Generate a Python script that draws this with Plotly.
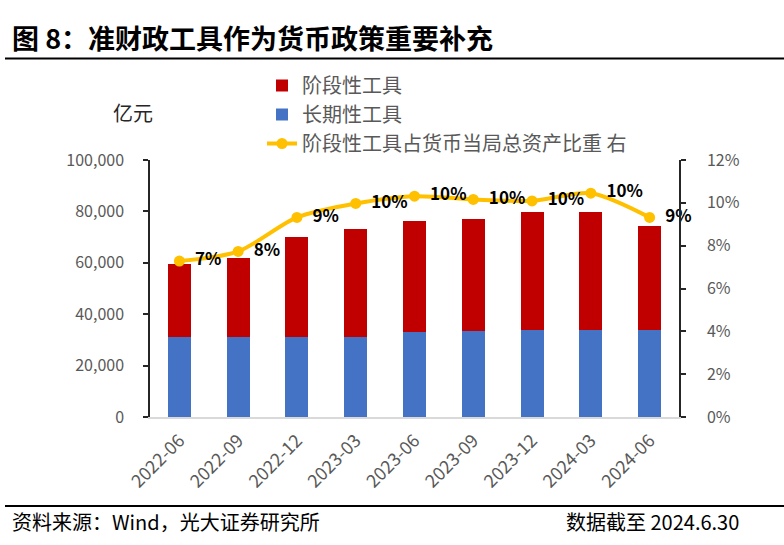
import plotly.graph_objects as go

# ---- data ----
categories = ["2022-06", "2022-09", "2022-12", "2023-03", "2023-06",
              "2023-09", "2023-12", "2024-03", "2024-06"]
long_term = [31000, 31000, 31000, 31000, 33000, 33400, 33700, 33700, 33700]      # 长期性工具 (亿元)
phased = [28400, 30700, 38900, 42100, 43100, 43500, 46200, 46000, 40500]         # 阶段性工具 (亿元)
phased_share = [0.0728, 0.0773, 0.0932, 0.0997, 0.1031, 0.1016, 0.1009, 0.1045, 0.0932]  # 占比 (右轴)

# ---- layout constants (pixels) ----
W, H = 784, 545
L, R, T, B = 150, 105, 160, 128
PW = W - L - R
PH = H - T - B

def px_x(x):
    return (x - L) / PW

def px_y(y):
    return (H - B - y) / PH

FONT = "Noto Sans CJK SC"
GREY = "#595959"

fig = go.Figure()

fig.add_trace(go.Bar(
    x=categories, y=long_term, name="长期性工具",
    marker=dict(color="#4472C4", line=dict(width=0)),
    legendrank=2, yaxis="y",
))
fig.add_trace(go.Bar(
    x=categories, y=phased, name="阶段性工具",
    marker=dict(color="#C00000", line=dict(width=0)),
    legendrank=1, yaxis="y",
))
fig.add_trace(go.Scatter(
    x=categories, y=phased_share, name="阶段性工具占货币当局总资产比重 右",
    mode="lines+markers+text", yaxis="y2",
    line=dict(color="#FFC000", width=4, shape="spline", smoothing=0.8),
    marker=dict(color="#FFC000", size=11),
    texttemplate="  %{y:.0%}", textposition="middle right",
    textfont=dict(family=FONT, size=17, color="#000000", weight="bold"),
    legendrank=3, cliponaxis=False,
))

fig.update_layout(
    width=W, height=H,
    margin=dict(l=L, r=R, t=T, b=B, autoexpand=False),
    paper_bgcolor="white", plot_bgcolor="white",
    barmode="stack", bargap=0.61,
    font=dict(family=FONT, size=16, color=GREY),
    showlegend=True,
    legend=dict(
        x=px_x(262), y=px_y(66), xanchor="left", yanchor="top",
        traceorder="normal", font=dict(family=FONT, size=20, color=GREY),
        bgcolor="rgba(0,0,0,0)", borderwidth=0, tracegroupgap=0,
    ),
    xaxis=dict(
        type="category", range=[-0.5, 8.5],
        showline=True, linecolor="#D9D9D9", linewidth=2,
        ticks="", tickangle=-45, showgrid=False, zeroline=False,
        ticklabelstandoff=4,
        tickfont=dict(family=FONT, size=18, color=GREY),
    ),
    yaxis=dict(
        range=[0, 100000], dtick=20000, tickformat=",",
        showline=True, linecolor="#262626", linewidth=1.5,
        ticks="outside", ticklen=5, tickcolor="#262626", tickwidth=1.5,
        showgrid=False, zeroline=False, ticklabelstandoff=16,
        tickfont=dict(family=FONT, size=16, color=GREY),
    ),
    yaxis2=dict(
        range=[0, 0.12], dtick=0.02, tickformat=".0%",
        overlaying="y", side="right", anchor="x",
        showline=True, linecolor="#262626", linewidth=1.5,
        ticks="outside", ticklen=5, tickcolor="#262626", tickwidth=1.5,
        showgrid=False, zeroline=False, ticklabelstandoff=18,
        tickfont=dict(family=FONT, size=16, color=GREY),
    ),
    annotations=[
        dict(text="<b>图 8：准财政工具作为货币政策重要补充</b>", x=px_x(10), y=px_y(38),
             xref="paper", yref="paper", xanchor="left", yanchor="middle",
             showarrow=False, font=dict(family=FONT, size=27, color="#000000")),
        dict(text="亿元", x=px_x(111), y=px_y(112),
             xref="paper", yref="paper", xanchor="left", yanchor="middle",
             showarrow=False, font=dict(family=FONT, size=20, color="#262626")),
        dict(text="资料来源：Wind，光大证券研究所", x=px_x(10), y=px_y(521),
             xref="paper", yref="paper", xanchor="left", yanchor="middle",
             showarrow=False, font=dict(family=FONT, size=20, color="#000000")),
        dict(text="数据截至 2024.6.30", x=px_x(741), y=px_y(521),
             xref="paper", yref="paper", xanchor="right", yanchor="middle",
             showarrow=False, font=dict(family=FONT, size=20, color="#000000")),
    ],
    shapes=[
        dict(type="line", xref="paper", yref="paper",
             x0=px_x(5), x1=px_x(784), y0=px_y(58.5), y1=px_y(58.5),
             line=dict(color="#000000", width=2)),
        dict(type="line", xref="paper", yref="paper",
             x0=px_x(5), x1=px_x(784), y0=px_y(506), y1=px_y(506),
             line=dict(color="#000000", width=2)),
    ],
)

fig.write_html(
    "out.html",
    config={"displayModeBar": False},
    post_script="document.body.style.margin='0';document.body.style.overflow='hidden';",
)
